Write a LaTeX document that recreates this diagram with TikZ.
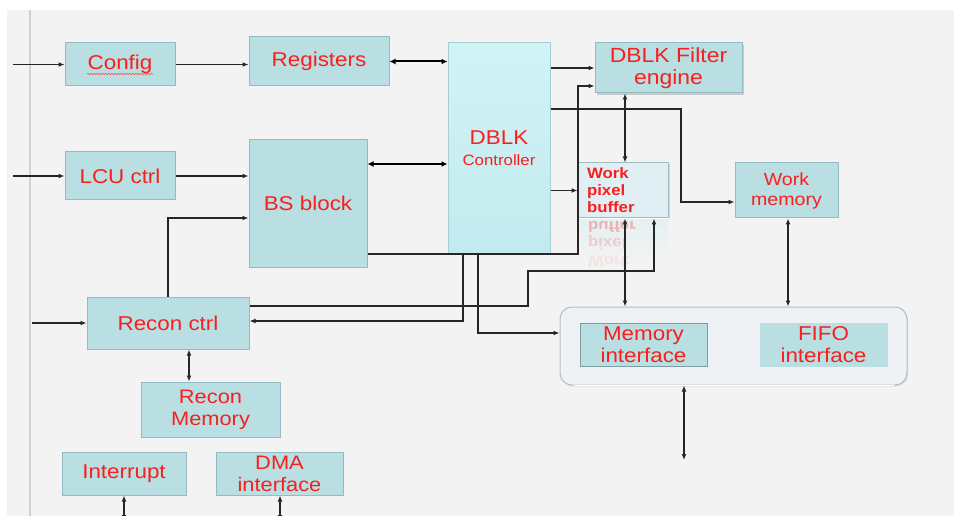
\documentclass[tikz,border=0pt]{standalone}
\usepackage{fontspec}
\setmainfont{Liberation Sans}[FakeStretch=1.12]
\usetikzlibrary{arrows.meta,shadows,decorations.pathmorphing}

\definecolor{pagegray}{HTML}{F3F3F3}
\definecolor{rulegray}{HTML}{D0D0D0}
\definecolor{boxfill}{HTML}{B9DFE3}
\definecolor{boxline}{HTML}{93BBC0}
\definecolor{ctlfilltop}{HTML}{D2F3F6}
\definecolor{ctlfillbot}{HTML}{C2EAEE}
\definecolor{ctlline}{HTML}{A6CFD4}
\definecolor{buffill}{HTML}{E0EFF3}
\definecolor{bufline}{HTML}{9FBCC2}
\definecolor{contfill}{HTML}{EEF2F4}
\definecolor{contline}{HTML}{B2C0C4}
\definecolor{labelred}{HTML}{FA1E1E}
\definecolor{wirecol}{HTML}{262626}

\begin{document}
\begin{tikzpicture}[x=1pt,y=-1pt,
  blk/.style={draw=boxline, fill=boxfill, line width=1pt, inner sep=0pt,
    align=center, text=labelred, font=\fontsize{20}{22}\selectfont},
  wire/.style={draw=wirecol, line width=1.3pt, -{Latex[length=6pt,width=5pt]}},
  twoway/.style={draw=wirecol, line width=1.3pt,
    {Latex[length=6pt,width=5pt]}-{Latex[length=6pt,width=5pt]}},
  bus/.style={draw=black, line width=2pt,
    {Latex[length=6pt,width=6pt]}-{Latex[length=6pt,width=6pt]}},
  mirror/.style={yscale=-1, anchor=base west, inner sep=0pt, text=labelred,
    font=\fontsize{15}{17}\selectfont\bfseries},
  squiggle/.style={draw=labelred!75, line width=0.6pt, decorate,
    decoration={snake, amplitude=0.8pt, segment length=3pt}}]

\clip (0,0) rectangle (954,516);

% page background and left margin rule
\fill[white] (0,0) rectangle (954,516);
\fill[pagegray] (7,10) rectangle (954,516);
\draw[rulegray, line width=1.3pt] (30,10) -- (30,516);

% ---- left column ----
\node[blk, minimum width=110pt, minimum height=43pt] (config) at (120,64.5) {Config};
\draw[squiggle] (87,74) -- (153,74);
\node[blk, minimum width=110pt, minimum height=48pt] (lcu) at (120,176) {LCU ctrl};
\node[blk, minimum width=162pt, minimum height=52pt] (recon) at (168,323) {Recon ctrl};
\node[blk, minimum width=139pt, minimum height=55pt, font=\fontsize{19.5}{22}\selectfont]
  (rmem) at (210.5,409.5) {Recon\\Memory};
\node[blk, minimum width=124pt, minimum height=43pt] (intr) at (124,473.5) {Interrupt};
\node[blk, minimum width=127pt, minimum height=43pt, font=\fontsize{19.5}{22}\selectfont]
  (dma) at (279.5,473.5) {DMA\\interface};

% ---- middle column ----
\node[blk, minimum width=140pt, minimum height=49pt] (regs) at (319,61.5) {Registers};
\node[blk, minimum width=118pt, minimum height=127pt] (bs) at (308,203.5) {BS block};
\node[blk, draw=ctlline, top color=ctlfilltop, bottom color=ctlfillbot,
  minimum width=102pt, minimum height=210pt] (dblk) at (499,148)
  {DBLK\\[-1pt]\fontsize{15}{18}\selectfont Controller};

% ---- right column ----
\node[blk, minimum width=147pt, minimum height=50pt, font=\fontsize{20.5}{22}\selectfont,
  drop shadow={shadow xshift=2pt, shadow yshift=-2pt, opacity=0.35}]
  (filt) at (668.5,68) {DBLK Filter\\engine};

% reflection under the work pixel buffer
\fill[top color=buffill!80!pagegray, bottom color=pagegray] (578,218) rectangle (668,260);
\node[blk, draw=bufline, fill=buffill, minimum width=90pt, minimum height=55pt,
  align=left, text width=72pt, font=\fontsize{15}{17}\selectfont\bfseries,
  drop shadow={shadow xshift=1.5pt, shadow yshift=-1pt, opacity=0.25}]
  (wpb) at (623,190.5) {Work\\pixel\\buffer};
\draw[white, line width=1.2pt] (wpb.south west) -- (wpb.south east);
\node[mirror, opacity=0.30] (mbuf) at (588,222) {buffer};
\node[mirror, opacity=0.18] (mpix) at (588,239) {pixel};
\node[mirror, opacity=0.08] (mwork) at (588,256) {Work};

\node[blk, minimum width=103pt, minimum height=55pt, font=\fontsize{17.5}{20}\selectfont]
  (wmem) at (786.5,190.5) {Work\\memory};

% interface container
\node[draw=contline, fill=contfill, line width=1pt, rounded corners=12pt,
  minimum width=347pt, minimum height=78pt, inner sep=0pt,
  drop shadow={shadow xshift=1pt, shadow yshift=-1.5pt, opacity=0.2}]
  (cont) at (733.5,346) {};
\draw[white, line width=1.2pt] ([xshift=14pt]cont.south west) -- ([xshift=-14pt]cont.south east);
\node[blk, draw=boxline!85!black, minimum width=127pt, minimum height=43pt,
  font=\fontsize{20}{22}\selectfont] (memif) at (643.5,344.5) {Memory\\interface};
\node[blk, draw=boxfill, minimum width=127pt, minimum height=43pt,
  font=\fontsize{20}{22}\selectfont] (fifo) at (823.5,344.5) {FIFO\\interface};

% free ends of connectors
\coordinate (in1) at (13,64.5);
\coordinate (in2) at (13,176);
\coordinate (in3) at (32,323);
\coordinate (iout) at (124,521);
\coordinate (dout) at (280,521);
\coordinate (mout) at (684,460);

% ---- connectors ----
\draw[wire] (in1) -- (config.west);
\draw[wire] (in2) -- (lcu.west);
\draw[wire] (in3) -- (recon.west);
\draw[wire] (config.east) -- (config.east -| regs.west);
\draw[wire] (lcu.east) -- (lcu.east -| bs.west);
\draw[bus] (regs.east) -- (regs.east -| dblk.west);
\draw[bus] (bs.east |- 0,164) -- (dblk.west |- 0,164);
\draw[wire] (recon.north) |- (bs.west |- 0,218);
\draw[twoway] (recon.south -| 189,0) -- (rmem.north -| 189,0);
\draw[twoway] (intr.south) -- (iout);
\draw[twoway] (dma.south -| dout) -- (dout);

\draw[wire] (dblk.east |- filt.west) -- (filt.west);
\draw[wire] (bs.east |- 0,254) -| (578,86) -- (filt.west |- 0,86);
\draw[wire] (dblk.east |- wpb.west) -- (wpb.west);
\draw[wire] (dblk.east |- 0,109) -| (681,202) -- (wmem.west |- 0,202);
\draw[twoway] (filt.south -| 625,0) -- (wpb.north -| 625,0);
\draw[twoway] (wpb.south -| 625,0) -- (cont.north -| 625,0);
\draw[twoway] (wmem.south -| 788,0) -- (cont.north -| 788,0);
\draw[twoway] (cont.south -| mout) -- (mout);

\draw[wire] (dblk.south -| 463,0) |- (recon.east |- 0,321);
\draw[wire] (dblk.south -| 478,0) |- (cont.west |- 0,333);
\draw[wire] (recon.east |- 0,306) -| (528,271) -| (wpb.south -| 654,0);

\end{tikzpicture}
\end{document}
